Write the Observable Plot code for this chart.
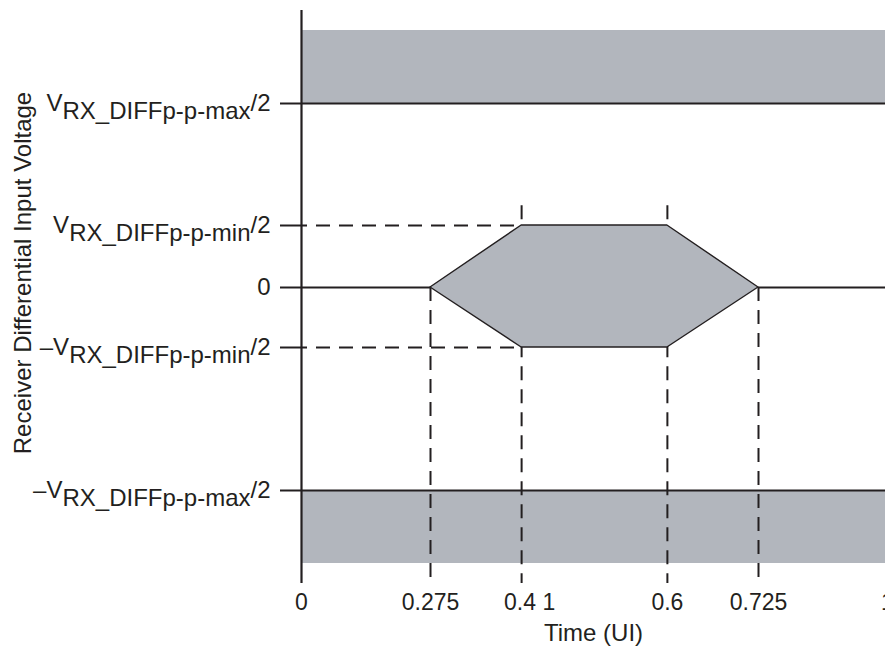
<!DOCTYPE html>
<html>
<head>
<meta charset="utf-8">
<script src="https://cdn.jsdelivr.net/npm/d3@7"></script>
<script src="https://cdn.jsdelivr.net/npm/@observablehq/plot@0.6"></script>
<style>
  html, body { margin: 0; padding: 0; background: #fff; }
  #chart { width: 885px; height: 647px; }
</style>
</head>
<body>
<div id="chart"></div>
<script>
// ---- values of the diagram (in units of the axes) ----
const vMinHalf = 0.2;          // V_RX_DIFFp-p-min / 2
const vMaxHalf = 0.6;          // V_RX_DIFFp-p-max / 2
const bandOuter = 0.85;        // outer edge of the forbidden bands
const axisExtent = 0.92;       // extent of the vertical axis
const cornerMarkTop = 0.265;   // top end of dashed markers at 0.4 / 0.6

// x ticks (time, UI)
const xTicks = [0, 0.275, 0.4, 0.6, 0.725, 1];
const xTickLabels = ["0", "0.275", "0.4 1", "0.6", "0.725", "1"];

// y ticks
const yTicks = [-vMaxHalf, -vMinHalf, 0, vMinHalf, vMaxHalf];
const yTickMain = ["\u2013V", "\u2013V", "0", "V", "V"];
const yTickSub = ["RX_DIFFp-p-max", "RX_DIFFp-p-min", "", "RX_DIFFp-p-min", "RX_DIFFp-p-max"];
const yTickSuffix = ["/2", "/2", "", "/2", "/2"];

// eye mask polygon
const eyeX = [0.275, 0.4, 0.6, 0.725];
const eyeUpper = [0, vMinHalf, vMinHalf, 0];
const eyeLower = [0, -vMinHalf, -vMinHalf, 0];

// bands
const bandY1 = [vMaxHalf, -bandOuter];
const bandY2 = [bandOuter, -vMaxHalf];

const xTitle = "Time (UI)";
const yTitle = "Receiver Differential Input Voltage";

// ---- tables built from the arrays ----
const bands = bandY1.map((y1, i) => ({x1: 0, x2: 1, y1, y2: bandY2[i]}));
const solidH = [
  {x1: 0, x2: 1, y: vMaxHalf},
  {x1: 0, x2: 1, y: -vMaxHalf},
  {x1: 0, x2: eyeX[0], y: 0},
  {x1: eyeX[3], x2: 1, y: 0}
];
const dashedH = [
  {x1: 0, x2: eyeX[1], y: vMinHalf},
  {x1: 0, x2: eyeX[1], y: -vMinHalf}
];
const dashedV = [
  {x: eyeX[0], y1: 0, y2: -axisExtent},
  {x: eyeX[1], y1: cornerMarkTop, y2: -axisExtent},
  {x: eyeX[2], y1: cornerMarkTop, y2: -axisExtent},
  {x: eyeX[3], y1: 0, y2: -axisExtent}
];

const ink = "#231f20";
const grey = "#b2b6bd";
const dash = "14,9";

const chart = Plot.plot({
  width: 885,
  height: 647,
  marginLeft: 301,
  marginRight: 0,
  marginTop: 10,
  marginBottom: 64,
  style: {fontFamily: "'Liberation Sans', Arial, Helvetica, sans-serif", fontSize: "22px", color: ink, background: "#fff"},
  x: {
    type: "linear",
    domain: [0, 0.275, 0.725, 1],
    range: [301, 430, 758, 887]
  },
  y: {
    type: "linear",
    domain: [-axisExtent, -bandOuter, -vMaxHalf, -vMinHalf, 0, vMinHalf, vMaxHalf, bandOuter, axisExtent],
    range: [583, 563, 490, 347, 287, 225, 103, 30, 10]
  },
  marks: [
    Plot.rect(bands, {x1: "x1", x2: "x2", y1: "y1", y2: "y2", fill: grey}),
    Plot.ruleX(dashedV, {x: "x", y1: "y1", y2: "y2", stroke: ink, strokeWidth: 2, strokeDasharray: dash}),
    Plot.ruleY(dashedH, {y: "y", x1: "x1", x2: "x2", stroke: ink, strokeWidth: 2, strokeDasharray: dash, strokeDashoffset: 8}),
    Plot.areaY(eyeX, {x: eyeX, y1: eyeLower, y2: eyeUpper, fill: grey, stroke: ink, strokeWidth: 1.4, curve: "linear"}),
    Plot.ruleY(solidH, {y: "y", x1: "x1", x2: "x2", stroke: ink, strokeWidth: 2}),
    Plot.ruleX([0], {y1: -axisExtent, y2: axisExtent, stroke: ink, strokeWidth: 2.2}),
    Plot.axisY({
      ticks: yTicks,
      tickSize: 21,
      tickPadding: 10,
      strokeWidth: 2,
      fontSize: 24,
      label: null,
      tickFormat: d => { const i = yTicks.indexOf(d); return yTickMain[i] + yTickSub[i] + yTickSuffix[i]; }
    }),
    Plot.axisX({
      ticks: xTicks.filter(d => d !== 0.4),
      tickSize: 0,
      tickPadding: 10,
      fontSize: 23,
      label: null,
      tickFormat: d => xTickLabels[xTicks.indexOf(d)]
    }),
    Plot.axisX({
      ticks: [0.4],
      tickSize: 0,
      tickPadding: 10,
      fontSize: 23,
      dx: 8,
      label: null,
      tickFormat: d => xTickLabels[xTicks.indexOf(d)]
    }),
    Plot.text([xTitle], {text: d => d, frameAnchor: "bottom", textAnchor: "middle", lineAnchor: "bottom", dy: 57, fontSize: 24, fill: ink}),
    Plot.text([yTitle], {text: d => d, frameAnchor: "left", textAnchor: "middle", lineAnchor: "middle", rotate: -90, dx: -278, dy: -24, fontSize: 24, fill: ink})
  ]
});

// split y tick labels into raised "V" / subscript / raised "/2" parts
d3.select(chart).selectAll('g[aria-label="y-axis tick label"] text').each(function () {
  const t = this.textContent;
  const i = yTicks.findIndex((d, k) => yTickMain[k] + yTickSub[k] + yTickSuffix[k] === t);
  if (i < 0 || !yTickSub[i]) return;
  const el = d3.select(this);
  el.text(null);
  el.append("tspan").text(yTickMain[i]);
  el.append("tspan").attr("dy", 8).text(yTickSub[i]);
  el.append("tspan").attr("dy", -8).text(yTickSuffix[i]);
});

document.getElementById("chart").appendChild(chart);
</script>
</body>
</html>
